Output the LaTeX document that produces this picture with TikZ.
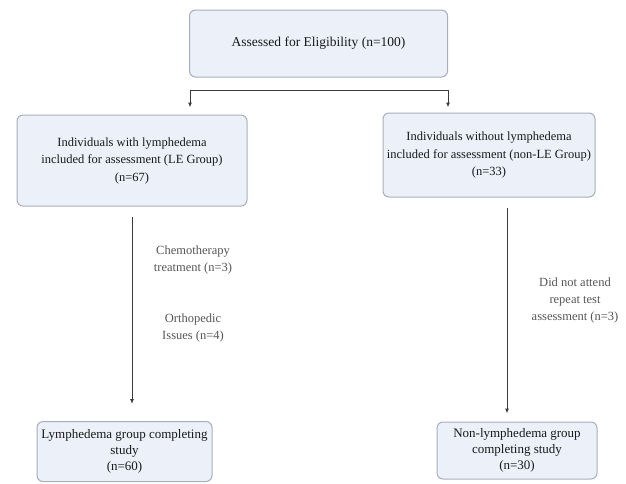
\documentclass[tikz,border=0pt]{standalone}
\usepackage{fontspec}
\setmainfont{Liberation Serif}
\usepackage{tikz}
\usetikzlibrary{arrows.meta}
\definecolor{boxfill}{HTML}{EBF0F9}
\definecolor{boxline}{HTML}{A7AEBC}
\definecolor{arrline}{HTML}{3A3A3A}
\definecolor{notetext}{HTML}{555555}
\tikzset{
  flowbox/.style={draw=boxline, fill=boxfill, rounded corners=6pt, line width=1pt,
    align=center, inner sep=2pt, text=black!90,
    font=\fontsize{12.5}{17.5}\selectfont},
  arr/.style={draw=arrline, line width=1pt, -{Latex[length=5pt,width=4pt]}},
  note/.style={align=center, text=notetext, font=\fontsize{12.5}{17}\selectfont}
}

\begin{document}
\begin{tikzpicture}[x=1pt,y=-1pt]
\useasboundingbox (0,0) rectangle (626,483);

% boxes
\node[flowbox, minimum width=258pt, minimum height=67pt,
  font=\fontsize{13.5}{17}\selectfont] (elig) at (318.5,43.5)
  {Assessed for Eligibility (n=100)};
\node[flowbox, minimum width=230pt, minimum height=91pt] (le) at (132,160.5)
  {Individuals with lymphedema\\included for assessment (LE Group)\\(n=67)};
\node[flowbox, minimum width=212pt, minimum height=84pt] (nle) at (489,155)
  {Individuals without lymphedema\\included for assessment (non-LE Group)\\(n=33)};
\node[flowbox, minimum width=175pt, minimum height=60pt,
  font=\fontsize{13}{16}\selectfont] (lec) at (124.5,451.5)
  {Lymphedema group completing\\study\\(n=60)};
\node[flowbox, minimum width=160pt, minimum height=57pt,
  font=\fontsize{13}{16}\selectfont] (nlec) at (517,450.5)
  {Non-lymphedema group\\completing study\\(n=30)};

% split below the first box
\coordinate (splitL) at (190,90);
\coordinate (splitR) at (448,90);
\draw[draw=arrline, line width=1pt] (splitL) -- (splitR);
\draw[arr] (splitL) -- ([yshift=7pt]splitL |- le.north);
\draw[arr] (splitR) -- ([yshift=5pt]splitR |- nle.north);

% losses
\coordinate (leout) at (132,217);
\coordinate (nleout) at (507,208);
\draw[arr] (leout) -- ([yshift=17pt]leout |- lec.north);
\draw[arr] (nleout) -- ([yshift=8pt]nleout |- nlec.north);

% labels
\node[note] (chemo) at (193,260) {Chemotherapy\\treatment (n=3)};
\node[note] (ortho) at (193,328) {Orthopedic\\Issues (n=4)};
\node[note] (noshow) at (575,300) {Did not attend\\repeat test\\assessment (n=3)};

\end{tikzpicture}
\end{document}
